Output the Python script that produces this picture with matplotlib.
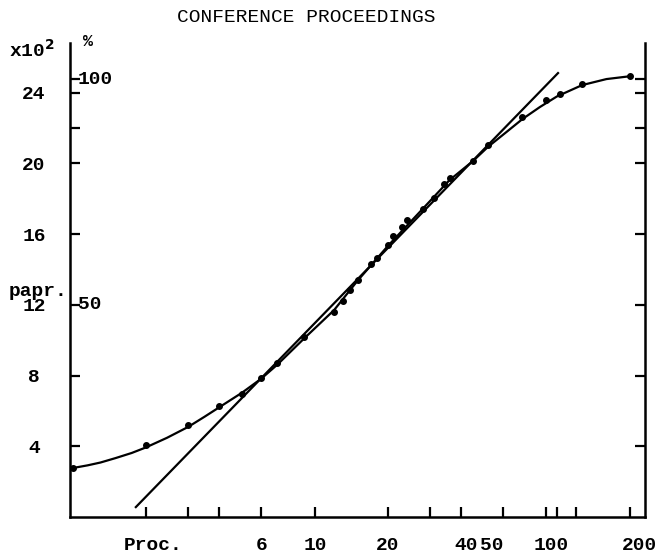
import matplotlib
matplotlib.use("Agg")
import matplotlib.pyplot as plt
from matplotlib.ticker import NullLocator
from matplotlib.transforms import blended_transform_factory

# ranked proceedings (cumulative) vs cumulative papers (x10^2), plotted dots
proc_rank = [1, 2, 3, 4, 5, 6, 7, 9, 12, 13, 14, 15, 17, 18, 20, 21, 23, 24,
             28, 31, 34, 36, 45, 52, 72, 90, 103, 127, 200]
papers = [2.77, 4.07, 5.20, 6.27, 6.95, 7.85, 8.70, 10.17, 11.58, 12.2, 12.82,
          13.39, 14.29, 14.63, 15.37, 15.88, 16.38, 16.78, 17.40, 18.02, 18.81,
          19.15, 20.11, 21.02, 22.60, 23.56, 23.90, 24.46, 24.92]

# hand-drawn smooth curve
curve_x = [1, 1.15, 1.3, 1.5, 1.75, 2, 2.45, 3, 3.5, 4, 5, 6, 7, 9, 12, 15,
           20, 28, 36, 45, 52, 62, 72, 85, 100, 127, 160, 200]
curve_y = [2.77, 2.92, 3.08, 3.33, 3.62, 3.93, 4.48, 5.10, 5.67, 6.18, 7.03,
           7.82, 8.62, 10.08, 11.70, 13.36, 15.32, 17.45, 19.05, 20.13, 20.94,
           21.78, 22.50, 23.18, 23.78, 24.42, 24.76, 24.92]

# Bradford straight line
line_x = [1.82, 101]
line_y = [0.56, 25.1]

x_ticks = [2, 3, 4, 6, 10, 20, 30, 40, 60, 90, 100, 120, 200]
x_labels = ["6", "10", "20", "40", "50", "100", "200"]
x_label_at = [6, 10, 20, 42, 54, 95, 220]

y_ticks = [4, 8, 12, 16, 20, 22, 24, 24.75]
y_labels = ["4", "8", "12", "16", "20", "", "24", ""]

pct_labels = ["50", "100"]
pct_at = [12.0, 24.75]

FONT = "Liberation Mono"
FS = 14
WT = "bold"

fig = plt.figure(figsize=(6.57, 5.54), dpi=100)
ax = fig.add_axes([70 / 657, 1 - 517 / 554, 575 / 657, 474 / 554])

ax.plot(curve_x, curve_y, color="black", lw=1.6)
ax.plot(proc_rank, papers, linestyle="none", color="black", marker="o", ms=4)
ax.plot(line_x, line_y, color="black", lw=1.6)

ax.set_xscale("log")
ax.set_xlim(0.973, 231)
ax.set_ylim(0, 26.8)

ax.set_xticks(x_ticks, labels=[""] * len(x_ticks))
ax.xaxis.set_minor_locator(NullLocator())
ax.set_yticks(y_ticks, labels=y_labels)
ax.yaxis.set_minor_locator(NullLocator())

ax.tick_params(axis="both", direction="in", length=7, width=1.6)
ax.tick_params(axis="y", right=True, pad=26)
for lab in ax.get_yticklabels():
    lab.set_horizontalalignment("center")
    lab.set_fontfamily(FONT)
    lab.set_fontsize(FS)
    lab.set_fontweight(WT)

for side in ["left", "right", "bottom"]:
    ax.spines[side].set_linewidth(1.8)
ax.spines["top"].set_visible(False)

# x labels under the axis
tr = blended_transform_factory(ax.transData, fig.transFigure)
for lab, xv in zip(x_labels, x_label_at):
    ax.text(xv, 1 - 545 / 554, lab, transform=tr, ha="center", va="center",
            family=FONT, fontsize=FS, weight=WT)
fig.text(153 / 657, 1 - 545 / 554, "Proc.", ha="center", va="center",
         family=FONT, fontsize=FS, weight=WT)

# percentage scale on the inside of the left axis
tr_y = blended_transform_factory(fig.transFigure, ax.transData)
for lab, yv in zip(pct_labels, pct_at):
    ax.text(78 / 657, yv, lab, transform=tr_y, ha="left", va="center",
            family=FONT, fontsize=FS, weight=WT)

fig.text(88 / 657, 1 - 41 / 554, "%", ha="center", va="center",
         family=FONT, fontsize=FS - 2, weight=WT)
fig.text(32 / 657, 1 - 50 / 554, r"x10$^\mathbf{2}$", ha="center", va="center",
         family=FONT, fontsize=FS, weight=WT)
fig.text(38 / 657, 1 - 291 / 554, "papr.", ha="center", va="center",
         family=FONT, fontsize=FS, weight=WT)
fig.text(306 / 657, 1 - 18 / 554, "CONFERENCE PROCEEDINGS", ha="center",
         va="center", family=FONT, fontsize=FS, weight="normal")

fig.savefig("out.png", dpi=100)
